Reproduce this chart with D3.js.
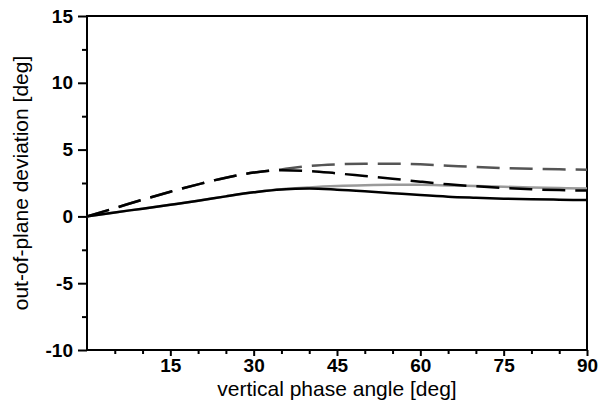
<!DOCTYPE html>
<html>
<head>
<meta charset="utf-8">
<script src="https://cdn.jsdelivr.net/npm/d3@7"></script>
<style>
  body { margin: 0; background: #fff; }
  svg text { font-family: "Liberation Sans", Arial, sans-serif; fill: #000; }
</style>
</head>
<body>
<svg id="chart" width="600" height="405"></svg>
<script>
// phase angle samples (deg)
const angles = [0, 5, 10, 15, 20, 25, 30, 35, 40, 45, 50, 55, 60, 65, 70, 75, 80, 85, 90];

// out-of-plane deviation (deg)
const solidBlack = [0, 0.3, 0.58, 0.87, 1.17, 1.5, 1.8, 2.02, 2.08, 2.0, 1.88, 1.74, 1.6, 1.48, 1.4, 1.33, 1.28, 1.25, 1.22];
const solidGray  = [0, 0.3, 0.58, 0.87, 1.17, 1.5, 1.8, 2.03, 2.17, 2.27, 2.33, 2.36, 2.36, 2.32, 2.27, 2.22, 2.17, 2.12, 2.08];
const dashBlack  = [0, 0.62, 1.25, 1.85, 2.4, 2.9, 3.28, 3.45, 3.4, 3.22, 3.02, 2.82, 2.6, 2.4, 2.25, 2.12, 2.03, 1.97, 1.93];
const dashGray   = [0, 0.62, 1.25, 1.85, 2.4, 2.9, 3.28, 3.52, 3.78, 3.9, 3.95, 3.95, 3.9, 3.8, 3.7, 3.62, 3.56, 3.52, 3.5];

const xTicks = [15, 30, 45, 60, 75, 90];
const yTicks = [-10, -5, 0, 5, 10, 15];

const svg = d3.select("#chart");
const margin = { top: 16, right: 13, bottom: 55, left: 87 };
const width = 600 - margin.left - margin.right;
const height = 405 - margin.top - margin.bottom;

const g = svg.append("g")
    .attr("transform", `translate(${margin.left},${margin.top})`);

const x = d3.scaleLinear().domain([0, 90]).range([0, width]);
const y = d3.scaleLinear().domain([-10, 15]).range([height, 0]);

//minor ticks
g.append("g")
    .attr("transform", `translate(0,${height})`)
    .call(d3.axisBottom(x).tickValues(d3.range(5, 90, 5).filter(d => d % 15 !== 0)).tickSize(4).tickFormat(""))
    .call(a => a.select(".domain").remove())
    .selectAll("line").attr("stroke-width", 2);

g.append("g")
    .call(d3.axisLeft(y).tickValues(d3.range(-7.5, 15, 5)).tickSize(5).tickFormat(""))
    .call(a => a.select(".domain").remove())
    .selectAll("line").attr("stroke-width", 2);

//major axes
const xAxis = g.append("g")
    .attr("transform", `translate(0,${height})`)
    .call(d3.axisBottom(x).tickValues(xTicks).tickSize(6).tickPadding(3).tickFormat(d => String(d)));

const yAxis = g.append("g")
    .call(d3.axisLeft(y).tickValues(yTicks).tickSize(9).tickPadding(5).tickFormat(d => String(d)));

[xAxis, yAxis].forEach(a => {
    a.select(".domain").remove();
    a.selectAll("line").attr("stroke-width", 2);
    a.selectAll("text")
        .style("font-size", "19px")
        .style("font-weight", "bold");
});

//frame
g.append("rect")
    .attr("width", width)
    .attr("height", height)
    .attr("fill", "none")
    .attr("stroke", "#000")
    .attr("stroke-width", 2);

//curves
const series = [
    { values: solidGray,  color: "#9a9a9a", dash: null },
    { values: dashGray,   color: "#555555", dash: "23,10" },
    { values: dashBlack,  color: "#000000", dash: "23,10" },
    { values: solidBlack, color: "#000000", dash: null }
];

const line = d3.line()
    .x((d, i) => x(angles[i]))
    .y(d => y(d))
    .curve(d3.curveMonotoneX);

g.selectAll(".curve")
    .data(series)
    .enter()
    .append("path")
    .attr("class", "curve")
    .attr("fill", "none")
    .attr("stroke", d => d.color)
    .attr("stroke-width", 2.5)
    .attr("stroke-dasharray", d => d.dash)
    .attr("d", d => line(d.values));

//axis labels
g.append("text")
    .attr("x", width / 2)
    .attr("y", height + 46)
    .attr("text-anchor", "middle")
    .style("font-size", "21px")
    .text("vertical phase angle [deg]");

g.append("text")
    .attr("transform", "rotate(-90)")
    .attr("x", -height / 2)
    .attr("y", -59)
    .attr("text-anchor", "middle")
    .style("font-size", "21px")
    .text("out-of-plane deviation [deg]");
</script>
</body>
</html>
